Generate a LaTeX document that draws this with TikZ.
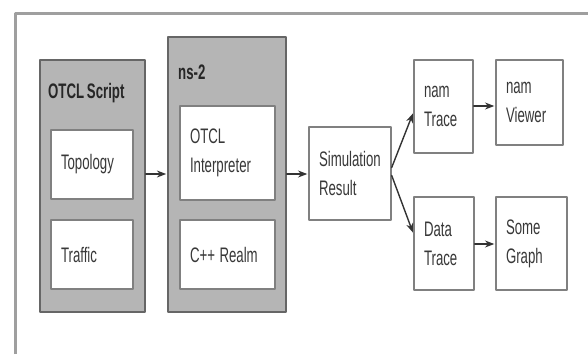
\documentclass[tikz,border=0pt]{standalone}
\usepackage{fontspec}
\newfontfamily\diagfont[FakeStretch=0.63, WordSpace=0.75]{Liberation Sans}
\usetikzlibrary{arrows.meta, positioning, calc}

\begin{document}
\begin{tikzpicture}[x=1pt, y=-1pt, >=Stealth, line cap=round, line join=round]
	
	\tikzset{
		frame/.style={line width=3pt, gray!75, line cap=butt},
		group/.style={draw=gray!120, fill=gray!58, line width=1.6pt, inner sep=0pt},
		item/.style={draw=gray!100, fill=white, line width=1.4pt, align=left, inner xsep=10pt,
			font=\diagfont\fontsize{21}{29}\selectfont, text=black!78},
		title/.style={font=\diagfont\bfseries\fontsize{21}{29}\selectfont, text=black!85, anchor=west, inner sep=0pt},
		flow/.style={->, line width=1.4pt, black!80, shorten >=1pt}
	}
	
	\useasboundingbox (0,0) rectangle (588,354);
	
	\draw[frame] (15,354) -- (15,13) -- (588,13);
	
	% grey groups
	\node[group, minimum width=105pt, minimum height=252pt] (script) at (92.5,186) {};
	\node[title] (scripttl) at (48,93) {OTCL Script};
	\node[group, minimum width=118pt, minimum height=275pt] (ns) at (227,174.5) {};
	\node[title] (nstl) at (178,72) {ns-2};
	
	\node[item, text width=62pt, minimum height=69pt] (topo) at (92,164.5) {Topology};
	\node[item, text width=62pt, minimum height=69pt] (traffic) at (92,254.5) {Traffic};
	\node[item, text width=75pt, minimum height=94pt] (interp) at (227.5,153) {OTCL\\Interpreter};
	\node[item, text width=75pt, minimum height=69pt] (realm) at (227.5,254.5) {C++\kern-2.5pt{} Realm};
	
	\node[item, text width=62pt, minimum height=93pt] (sim) at (350,173.5) {Simulation\\Result};
	\node[item, text width=39pt, minimum height=93pt] (namtr) at (443.5,106.5) {nam\\Trace};
	\node[item, text width=47pt, minimum height=85pt] (namvw) at (529.5,102.5) {nam\\Viewer};
	\node[item, text width=40pt, minimum height=93pt] (datatr) at (444,243.5) {Data\\Trace};
	\node[item, text width=51pt, minimum height=93pt] (graph) at (531.5,243.5) {Some\\Graph};
	
	\draw[flow] (script.east |- 0,174) -- (ns.west |- 0,174);
	\draw[flow] (ns.east |- 0,174) -- (sim.west |- 0,174);
	\draw[flow] ([yshift=6pt]sim.east) -- ([yshift=-6pt]namtr.west);
	\draw[flow] ([yshift=-2pt]sim.east) -- ([yshift=10pt]datatr.west);
	\draw[flow] (namtr.east |- 0,106) -- (namvw.west |- 0,106);
	\draw[flow] (datatr.east |- 0,244) -- (graph.west |- 0,244);
	
\end{tikzpicture}
\end{document}
